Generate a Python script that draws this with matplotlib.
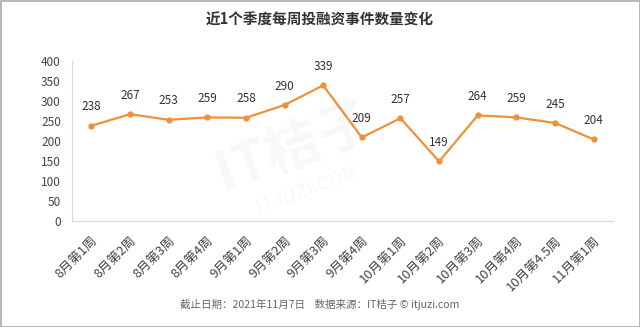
import matplotlib
matplotlib.use("Agg")
import matplotlib.pyplot as plt
from matplotlib.patches import Rectangle

plt.rcParams['font.family'] = ['Noto Sans CJK SC', 'DejaVu Sans']

categories = ["8月第1周", "8月第2周", "8月第3周", "8月第4周", "9月第1周", "9月第2周",
              "9月第3周", "9月第4周", "10月第1周", "10月第2周", "10月第3周", "10月第4周",
              "10月第4.5周", "11月第1周"]
values = [238, 267, 253, 259, 258, 290, 339, 209, 257, 149, 264, 259, 245, 204]
yticks = [0, 50, 100, 150, 200, 250, 300, 350, 400]

W, H = 640, 327
fig = plt.figure(figsize=(W/100, H/100), dpi=100)
ax = fig.add_axes([72/W, 1-221/H, (613-72)/W, (221-61)/H])

x = list(range(len(categories)))
ax.plot(x, values, color='#F0913A', lw=1.6, marker='o', ms=3.5, zorder=3)
for xi, v in zip(x, values):
    ax.annotate(str(v), (xi, v), xytext=(0, 9), textcoords='offset points',
                ha='center', va='bottom', fontsize=8.5, color='#333333')

ax.set_xlim(-0.5, len(categories)-0.5)
ax.set_ylim(0, 400)
ax.set_yticks(yticks)
ax.set_xticks(x)
ax.set_xticklabels(categories, rotation=45, ha='right', rotation_mode='anchor',
                   fontsize=9.3, color='#444444')
ax.tick_params(axis='y', labelsize=8.5, colors='#444444', length=0, pad=8)
ax.tick_params(axis='x', length=0, pad=10)
for s in ['top', 'right']:
    ax.spines[s].set_visible(False)
for s in ['left', 'bottom']:
    ax.spines[s].set_color('#D9D9D9')
    ax.spines[s].set_linewidth(0.8)

# faint watermark
fig.text(0.46, 0.55, "IT桔子", fontsize=40, color='#000000', alpha=0.03,
         ha='center', va='center', rotation=20, fontweight='bold')
fig.text(0.48, 0.42, "ITJUZI.COM", fontsize=14, color='#000000', alpha=0.03,
         ha='center', va='center', rotation=20)

fig.text(0.5, 1-20/H, "近1个季度每周投融资事件数量变化", ha='center', va='center',
         fontsize=10.5, fontweight='bold', color='#333333')
fig.text(0.5, 1-304/H, "截止日期：2021年11月7日    数据来源：IT桔子 © itjuzi.com",
         ha='center', va='center', fontsize=7.6, color='#666666')

fig.add_artist(Rectangle((0.5/W, 0.5/H), 1-1/W, 1-1/H, transform=fig.transFigure,
                         fill=False, edgecolor='#AAAAAA', lw=1.2))

fig.savefig("out.png", dpi=100)
